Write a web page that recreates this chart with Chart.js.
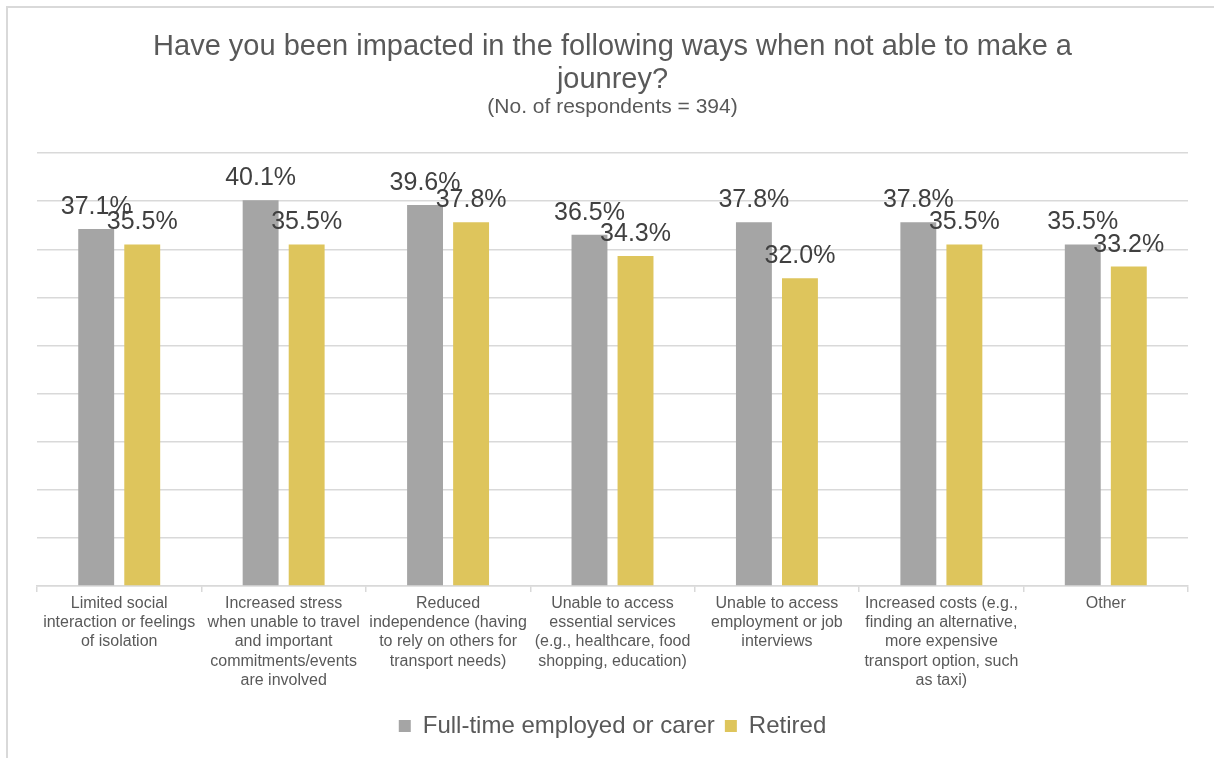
<!DOCTYPE html>
<html>
<head>
<meta charset="utf-8">
<script src="https://cdn.jsdelivr.net/npm/chart.js@4/dist/chart.umd.min.js"></script>
<style>
    html, body { margin: 0; padding: 0; background: #ffffff; }
    #frame {
        position: absolute;
        left: 6px;
        top: 6px;
        width: 1208px;
        height: 752px;
        border-left: 2px solid #d9d9d9;
        border-top: 2px solid #d9d9d9;
        box-sizing: border-box;
    }
    #wrap { position: absolute; left: 0; top: 0; width: 1214px; height: 758px; }
</style>
</head>
<body>
<div id="frame"></div>
<div id="wrap"><canvas id="impactChart"></canvas></div>
<script>
// Survey categories (x axis, wrapped onto several lines)
const categories = [
    ['Limited social', 'interaction or feelings', 'of isolation'],
    ['Increased stress', 'when unable to travel', 'and important', 'commitments/events', 'are involved'],
    ['Reduced', 'independence (having', 'to rely on others for', 'transport needs)'],
    ['Unable to access', 'essential services', '(e.g., healthcare, food', 'shopping, education)'],
    ['Unable to access', 'employment or job', 'interviews'],
    ['Increased costs (e.g.,', 'finding an alternative,', 'more expensive', 'transport option, such', 'as taxi)'],
    ['Other']
];

const seriesNames = ['Full-time employed or carer', 'Retired'];
const fullTimeValues = [37.1, 40.1, 39.6, 36.5, 37.8, 37.8, 35.5];
const retiredValues = [35.5, 35.5, 37.8, 34.3, 32.0, 35.5, 33.2];

const titleLines = ['Have you been impacted in the following ways when not able to make a', 'jounrey?'];
const subtitleText = '(No. of respondents = 394)';

const FONT = '"Liberation Sans", Arial, Helvetica, sans-serif';
Chart.defaults.font.family = FONT;

// Percent labels above every bar
const valueLabels = {
    id: 'valueLabels',
    afterDatasetsDraw(chart) {
        const ctx = chart.ctx;
        ctx.save();
        ctx.font = '25px ' + FONT;
        ctx.fillStyle = '#404040';
        ctx.textAlign = 'center';
        ctx.textBaseline = 'alphabetic';
        chart.data.datasets.forEach((ds, i) => {
            chart.getDatasetMeta(i).data.forEach((bar, j) => {
                ctx.fillText(ds.data[j].toFixed(1) + '%', bar.x, bar.y - 15);
            });
        });
        ctx.restore();
    }
};

const ctx = document.getElementById('impactChart').getContext('2d');
new Chart(ctx, {
    type: 'bar',
    data: {
        labels: categories,
        datasets: [
            {
                label: seriesNames[0],
                data: fullTimeValues,
                backgroundColor: '#a5a5a5',
                barPercentage: 0.78,
                categoryPercentage: 0.56
            },
            {
                label: seriesNames[1],
                data: retiredValues,
                backgroundColor: '#dec55c',
                barPercentage: 0.78,
                categoryPercentage: 0.56
            }
        ]
    },
    options: {
        responsive: true,
        maintainAspectRatio: false,
        animation: false,
        layout: {
            padding: { top: 30, left: 37, right: 26, bottom: 10 }
        },
        plugins: {
            title: {
                display: true,
                text: titleLines,
                color: '#595959',
                font: { size: 29, weight: 'normal', lineHeight: 1.138 },
                padding: { top: 0, bottom: 0 }
            },
            subtitle: {
                display: true,
                text: subtitleText,
                color: '#595959',
                font: { size: 21, weight: 'normal', lineHeight: 1.1 },
                padding: { top: 0, bottom: 34 }
            },
            legend: {
                position: 'bottom',
                labels: {
                    color: '#595959',
                    font: { size: 24 },
                    boxWidth: 12,
                    boxHeight: 12,
                    padding: 10
                }
            },
            tooltip: { enabled: false }
        },
        scales: {
            x: {
                grid: {
                    display: true,
                    drawOnChartArea: false,
                    drawTicks: true,
                    tickLength: 6,
                    color: '#d9d9d9',
                    lineWidth: 1.5
                },
                border: { display: true, color: '#d9d9d9', width: 1.5 },
                ticks: {
                    color: '#595959',
                    font: { size: 16, lineHeight: 1.2 },
                    padding: 2,
                    autoSkip: false,
                    maxRotation: 0,
                    minRotation: 0
                },
                afterFit(scale) {
                    scale.height = 118;
                }
            },
            y: {
                min: 0,
                max: 45,
                ticks: { display: false, stepSize: 5 },
                grid: { color: '#d9d9d9', lineWidth: 1.5, drawTicks: false },
                border: { display: false }
            }
        }
    },
    plugins: [valueLabels]
});
</script>
</body>
</html>
